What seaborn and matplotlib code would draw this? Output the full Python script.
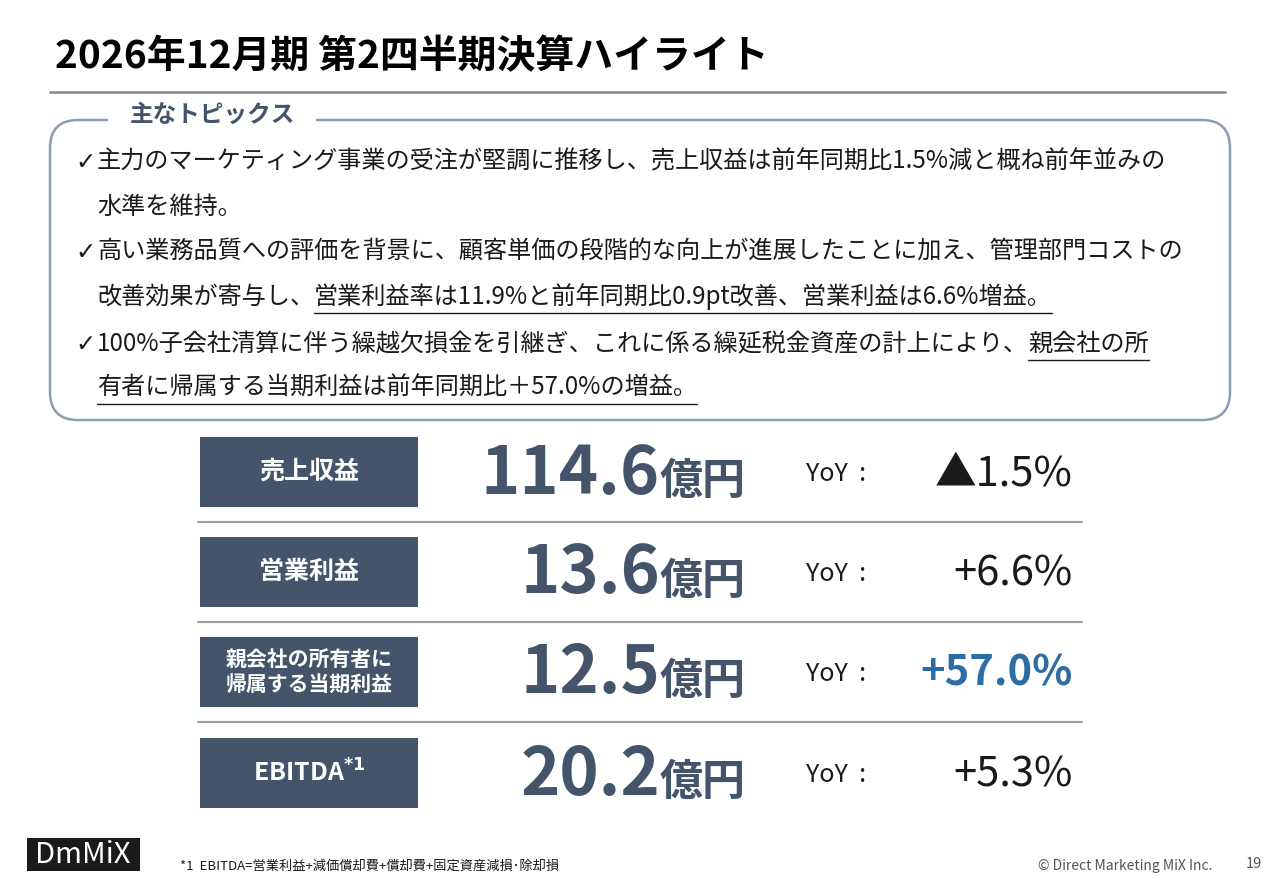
import matplotlib
matplotlib.use("Agg")
import matplotlib.pyplot as plt
import seaborn as sns
from matplotlib.patches import FancyBboxPatch, Rectangle

sns.set_theme(style="white")
plt.rcParams['font.family'] = ['Noto Sans CJK JP', 'DejaVu Sans']

# slide data
title = "2026年12月期 第2四半期決算ハイライト"
metrics = ["売上収益", "営業利益", "親会社の所有者に\n帰属する当期利益", r"EBITDA$^{\mathbf{*1}}$"]
values = ["114.6", "13.6", "12.5", "20.2"]
yoy = ["▲1.5%", "+6.6%", "+57.0%", "+5.3%"]
highlight = [False, False, True, False]
topics = [
    [("✓", False), ("主力のマーケティング事業の受注が堅調に推移し、売上収益は前年同期比1.5%減と概ね前年並みの", False)],
    [("水準を維持。", False)],
    [("✓", False), ("高い業務品質への評価を背景に、顧客単価の段階的な向上が進展したことに加え、管理部門コストの", False)],
    [("改善効果が寄与し、", False), ("営業利益率は11.9%と前年同期比0.9pt改善、営業利益は6.6%増益。", True)],
    [("✓", False), ("100%子会社清算に伴う繰越欠損金を引継ぎ、これに係る繰延税金資産の計上により、", False), ("親会社の所", True)],
    [("有者に帰属する当期利益は前年同期比＋57.0%の増益。", True)],
]

NAVY = "#44546a"
fig = plt.figure(figsize=(12.8, 8.86), dpi=100)
ax = fig.add_axes([0, 0, 1, 1])
ax.set_xlim(0, 1280)
ax.set_ylim(886, 0)
ax.axis('off')

ax.text(55, 57, title, fontsize=28, fontweight='bold', color='black', va='center')
ax.plot([50, 1225], [92, 92], color='#909090', lw=2)

box = FancyBboxPatch((50, 120), 1180, 300, boxstyle="round,pad=0,rounding_size=28",
                     fc='white', ec='#8c9db3', lw=1.8)
ax.add_patch(box)
ax.add_patch(Rectangle((108, 108), 208, 20, fc='white', ec='none'))
ax.text(212, 115, "主なトピックス", fontsize=17, fontweight='bold', color=NAVY, ha='center', va='center')

fig.canvas.draw()
renderer = fig.canvas.get_renderer()
inv = ax.transData.inverted()
line_y = [162, 207, 252, 297, 344, 388]
for y, parts in zip(line_y, topics):
    x = 75 if parts[0][0] == "✓" else 97
    for txt, ul in parts:
        t = ax.text(x, y, txt, fontsize=17.4, color='#1a1a1a', va='center',
                    family=['DejaVu Sans'] if txt == "✓" else None)
        if txt == "✓":
            x = 97
            continue
        bb = t.get_window_extent(renderer)
        (x0, _), (x1, _) = inv.transform([(bb.x0, 0), (bb.x1, 0)])
        if ul:
            ax.plot([x0, x1], [y + 16, y + 16], color='#1a1a1a', lw=1)
        x = x1

row_y = [472, 572, 672, 773]
for i, (m, v, d, hl) in enumerate(zip(metrics, values, yoy, highlight)):
    y = row_y[i]
    ax.add_patch(Rectangle((200, y - 35), 218, 70, fc=NAVY, ec='none'))
    fs = 15 if "\n" in m else 18
    ax.text(309, y, m, fontsize=fs, fontweight='bold', color='white', ha='center', va='center',
            linespacing=1.25)
    ax.text(660, y + 2, v, fontsize=48, fontweight='bold', color=NAVY, ha='right', va='center')
    ax.text(660, y + 9, "億円", fontsize=31, fontweight='bold', color=NAVY, ha='left', va='center')
    ax.text(806, y + 2, "YoY  :", fontsize=18, color='#1a1a1a', ha='left', va='center')
    ax.text(1073, y + 2, d, fontsize=30, color='#2e6da4' if hl else '#1a1a1a',
            fontweight='bold' if hl else 'normal', ha='right', va='center')
    if i < 3:
        ax.plot([198, 1082], [y + 50, y + 50], color='#8a8a8a', lw=1.2)

ax.add_patch(Rectangle((27, 838), 113, 33, fc='#1a1a1a', ec='none'))
ax.text(83, 855, "DmMiX", fontsize=21, color='white', va='center', ha='center')
ax.text(180, 866, "*1  EBITDA=営業利益+減価償却費+償却費+固定資産減損･除却損", fontsize=9.5,
        color='#1a1a1a', va='center')
ax.text(1213, 866, "© Direct Marketing MiX Inc.", fontsize=10, color='#555555', ha='right', va='center')
ax.text(1262, 864, "19", fontsize=10.5, color='#555555', ha='right', va='center')

fig.savefig("out.png", dpi=100)
